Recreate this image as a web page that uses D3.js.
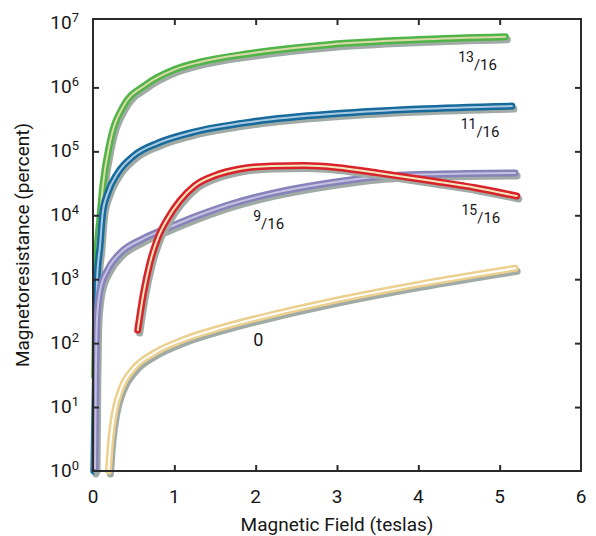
<!DOCTYPE html>
<html>
<head>
<meta charset="UTF-8"/>
<style>
    body { margin: 0; background: #fff; font-family: Roboto, "Liberation Sans", Arial, sans-serif; }
    svg text { fill: #161616; }
</style>
</head>
<body>
<script src="https://d3js.org/d3.v7.min.js"></script>
<div id="chart"></div>
<script>
    // field in teslas, magnetoresistance in percent
    var fieldGreen = [0.02, 0.05, 0.085, 0.12, 0.21, 0.37, 0.65, 1.0, 1.32, 1.93, 2.92, 4.0, 5.07];
    var mrGreen = [3e1, 2.5e3, 9e3, 2.8e4, 1.4e5, 5e5, 1.1e6, 1.9e6, 2.5e6, 3.4e6, 4.7e6, 5.6e6, 6.2e6];

    var fieldBlue = [0.01, 0.03, 0.05, 0.085, 0.12, 0.18, 0.3, 0.5, 0.8, 1.2, 2.0, 3.0, 4.0, 5.15];
    var mrBlue = [1, 3e1, 1e3, 3.2e3, 1.1e4, 2.2e4, 4.5e4, 8.5e4, 1.35e5, 1.95e5, 2.95e5, 3.9e5, 4.6e5, 5.1e5];

    var fieldPurple = [0.025, 0.035, 0.05, 0.09, 0.18, 0.34, 0.6, 0.9, 1.3, 1.7, 2.2, 2.9, 3.5, 4.2, 5.19];
    var mrPurple = [1.1, 3e1, 2.5e2, 7e2, 1.4e3, 2.6e3, 4.2e3, 6.2e3, 1e4, 1.5e4, 2.2e4, 3.2e4, 4e4, 4.4e4, 4.6e4];

    var fieldRed = [0.55, 0.62, 0.7, 0.8, 0.92, 1.07, 1.25, 1.5, 1.8, 2.2, 2.6, 3.0, 3.5, 4.2, 4.7, 5.21];
    var mrRed = [1.6e2, 6e2, 1.8e3, 4.5e3, 9e3, 1.7e4, 2.9e4, 4.2e4, 5.3e4, 5.9e4, 6e4, 5.6e4, 4.6e4, 3.4e4, 2.7e4, 2e4];

    var fieldTan = [0.19, 0.22, 0.27, 0.35, 0.5, 0.75, 1.1, 1.6, 2.2, 2.92, 4.0, 5.19];
    var mrTan = [1, 3.2, 9, 20, 40, 70, 112, 178, 280, 450, 830, 1480];

    var seriesNames = ["13/16", "11/16", "9/16", "15/16", "0"];
    var labelField = [4.49, 4.52, 1.97, 4.53, 1.97];
    var labelMR = [1.9e6, 1.7e5, 6e3, 7.5e3, 90];

    var xTicks = [0, 1, 2, 3, 4, 5, 6];
    var yExponents = [0, 1, 2, 3, 4, 5, 6, 7];

    var W = 596, H = 536;
    var svg = d3.select("#chart").append("svg")
        .attr("width", W)
        .attr("height", H);

    var x = d3.scaleLinear().domain([0, 6]).range([93, 581]);
    var y = d3.scaleLog().domain([1, Math.pow(10, 7.07)]).range([471, 19]);

    var styles = [
        {color: "#4fb548", inner: "#ded9a9"},
        {color: "#176b9c", inner: "#a9c9e0"},
        {color: "#8782ba", inner: "#c4c1e1"},
        {color: "#d9222a", inner: "#efe7bd"},
        {color: "#ebd08f", inner: "#ffffff"}
    ];
    var fields = [fieldGreen, fieldBlue, fieldPurple, fieldRed, fieldTan];
    var mrs = [mrGreen, mrBlue, mrPurple, mrRed, mrTan];

    var series = fields.map(function(f, i) {
        return {
            name: seriesNames[i],
            style: styles[i],
            points: f.map(function(b, j) { return [b, mrs[i][j]]; })
        };
    });

    var line = d3.line()
        .x(function(d) { return x(d[0]); })
        .y(function(d) { return y(d[1]); })
        .curve(d3.curveMonotoneX);

    // curves: grey shadow, coloured band, thin light core
    var g = svg.selectAll("g.curve")
        .data(series)
        .enter()
        .append("g")
        .attr("class", "curve")
        .attr("fill", "none")
        .attr("stroke-linecap", "round")
        .attr("stroke-linejoin", "round");

    g.append("path")
        .attr("d", function(d) { return line(d.points); })
        .attr("transform", "translate(2,3)")
        .attr("stroke", "#a1aba5")
        .attr("stroke-width", 7);
    g.append("path")
        .attr("d", function(d) { return line(d.points); })
        .attr("stroke", function(d) { return d.style.color; })
        .attr("stroke-width", 7);
    g.append("path")
        .attr("d", function(d) { return line(d.points); })
        .attr("stroke", function(d) { return d.style.inner; })
        .attr("stroke-width", 2);

    // frame
    svg.append("rect")
        .attr("x", x(0))
        .attr("y", y.range()[1])
        .attr("width", x(6) - x(0))
        .attr("height", y.range()[0] - y.range()[1])
        .attr("fill", "none")
        .attr("stroke", "#2a2a2a")
        .attr("stroke-width", 2);

    // inward ticks on all four sides
    var yTickVals = yExponents.slice(1, -1).map(function(e) { return Math.pow(10, e); });
    var xTickVals = xTicks.slice(1, -1);

    function ticks(axis, tr) {
        var a = svg.append("g").attr("transform", tr).call(axis);
        a.select(".domain").remove();
        a.selectAll("text").remove();
        a.selectAll("line").attr("stroke", "#2a2a2a").attr("stroke-width", 2);
    }
    ticks(d3.axisLeft(y).tickValues(yTickVals).tickSize(-6), "translate(" + x(0) + ",0)");
    ticks(d3.axisRight(y).tickValues(yTickVals).tickSize(-6), "translate(" + x(6) + ",0)");
    ticks(d3.axisBottom(x).tickValues(xTickVals).tickSize(-6), "translate(0," + y.range()[0] + ")");
    ticks(d3.axisTop(x).tickValues(xTickVals).tickSize(-6), "translate(0," + y.range()[1] + ")");

    // y tick labels 10^n
    var yl = svg.selectAll("text.ylab")
        .data(yExponents)
        .enter()
        .append("text")
        .attr("class", "ylab")
        .attr("x", x(0) - 14)
        .attr("y", function(d) { return y(Math.pow(10, d)) + 6; })
        .attr("text-anchor", "end")
        .attr("font-size", "19px");
    yl.append("tspan").text("10");
    yl.append("tspan")
        .attr("dy", -7)
        .attr("font-size", "13px")
        .text(function(d) { return d; });

    // x tick labels
    svg.selectAll("text.xlab")
        .data(xTicks)
        .enter()
        .append("text")
        .attr("class", "xlab")
        .attr("x", function(d) { return x(d); })
        .attr("y", 503)
        .attr("text-anchor", "middle")
        .attr("font-size", "19px")
        .text(function(d) { return d; });

    // axis titles
    svg.append("text")
        .attr("x", (x(0) + x(6)) / 2)
        .attr("y", 531)
        .attr("text-anchor", "middle")
        .attr("font-size", "19px")
        .text("Magnetic Field (teslas)");

    svg.append("text")
        .attr("transform", "translate(29," + ((y.range()[0] + y.range()[1]) / 2) + ") rotate(-90)")
        .attr("text-anchor", "middle")
        .attr("font-size", "19px")
        .text("Magnetoresistance (percent)");

    // curve labels (fractions of the sample)
    seriesNames.forEach(function(name, i) {
        var t = svg.append("text")
            .attr("x", x(labelField[i]))
            .attr("y", y(labelMR[i]))
            .attr("font-size", "14px");
        var parts = name.split("/");
        if (parts.length === 2) {
            t.append("tspan").attr("dy", -8).text(parts[0]);
            t.append("tspan").attr("dy", 8).attr("font-size", "15px").text("/" + parts[1]);
        } else {
            t.attr("font-size", "18px").text(name);
        }
    });
</script>
</body>
</html>
